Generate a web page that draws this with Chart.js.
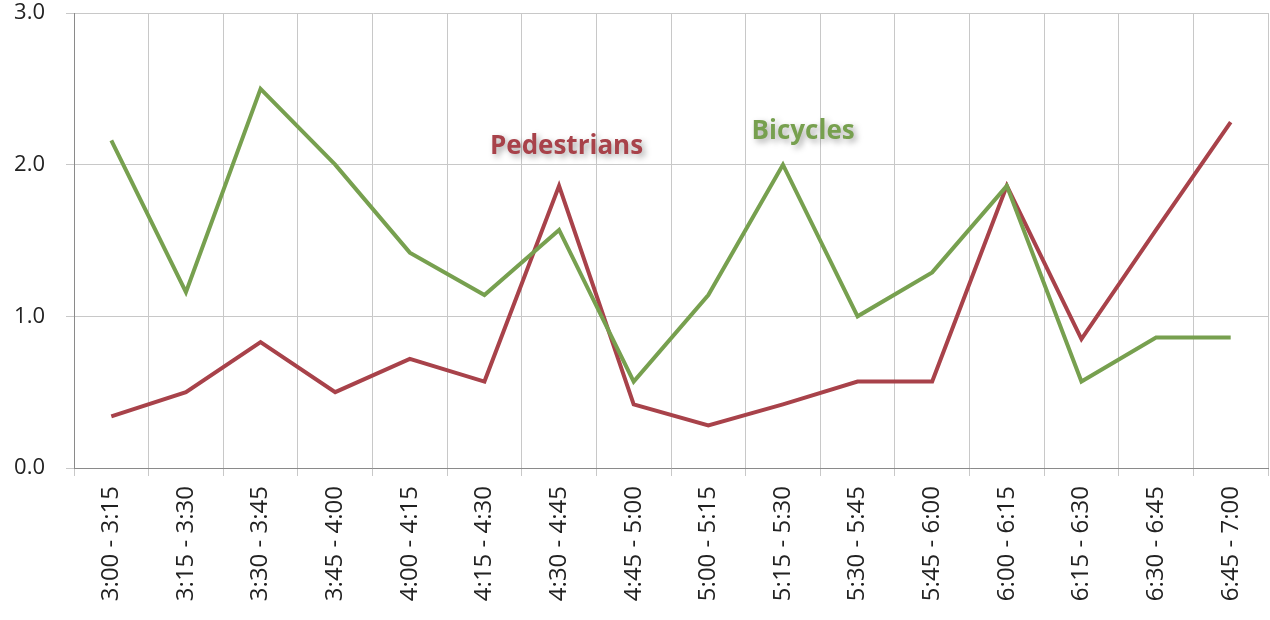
<!DOCTYPE html>
<html>
<head>
<meta charset="utf-8">
<script src="https://cdn.jsdelivr.net/npm/chart.js@4"></script>
<style>
  html, body { margin: 0; padding: 0; background: #fff; }
  #wrap { width: 1270px; height: 620px; position: relative; }
</style>
</head>
<body>
<div id="wrap"><canvas id="traffic-chart"></canvas></div>
<script>
const periods = ["3:00 - 3:15", "3:15 - 3:30", "3:30 - 3:45", "3:45 - 4:00", "4:00 - 4:15", "4:15 - 4:30",
  "4:30 - 4:45", "4:45 - 5:00", "5:00 - 5:15", "5:15 - 5:30", "5:30 - 5:45", "5:45 - 6:00",
  "6:00 - 6:15", "6:15 - 6:30", "6:30 - 6:45", "6:45 - 7:00"];
const bicycles = [2.16, 1.16, 2.5, 2.0, 1.42, 1.14, 1.57, 0.57, 1.14, 2.0, 1.0, 1.29, 1.86, 0.57, 0.86, 0.86];
const pedestrians = [0.34, 0.5, 0.83, 0.5, 0.72, 0.57, 1.86, 0.42, 0.28, 0.42, 0.57, 0.57, 1.86, 0.85, 1.57, 2.28];
const yTicks = [0, 1, 2, 3];

// series names written inside the plot, next to the lines
const seriesLabels = [
  { text: "Pedestrians", color: "#a8424a", index: 6.1, value: 2.12 },
  { text: "Bicycles", color: "#77a04f", index: 9.27, value: 2.22 }
];

const labelPlugin = {
  id: "seriesLabels",
  afterDatasetsDraw(chart) {
    const ctx = chart.ctx;
    const xs = chart.scales.x, ys = chart.scales.y;
    ctx.save();
    ctx.font = "bold 26px 'Open Sans', sans-serif";
    ctx.textAlign = "center";
    ctx.textBaseline = "middle";
    seriesLabels.forEach(l => {
      const i = Math.floor(l.index);
      const x0 = xs.getPixelForValue(i), x1 = xs.getPixelForValue(i + 1);
      const x = x0 + (x1 - x0) * (l.index - i);
      const y = ys.getPixelForValue(l.value);
      ctx.shadowColor = "rgba(0,0,0,0.35)";
      ctx.shadowBlur = 6;
      ctx.shadowOffsetX = 3;
      ctx.shadowOffsetY = 3;
      ctx.fillStyle = l.color;
      ctx.fillText(l.text, x, y);
    });
    ctx.restore();
  }
};

const ctx = document.getElementById("traffic-chart").getContext("2d");
const chart = new Chart(ctx, {
  type: "line",
  data: {
    labels: periods,
    datasets: [
      {
        label: "Bicycles",
        data: bicycles,
        borderColor: "#77a04f",
        borderWidth: 4,
        pointRadius: 0,
        tension: 0
      },
      {
        label: "Pedestrians",
        data: pedestrians,
        borderColor: "#a8424a",
        borderWidth: 4,
        pointRadius: 0,
        tension: 0
      }
    ]
  },
  options: {
    responsive: true,
    maintainAspectRatio: false,
    animation: false,
    layout: { padding: { top: 13, right: 2, bottom: 6, left: 0 } },
    plugins: {
      legend: { display: false },
      tooltip: { enabled: false }
    },
    scales: {
      x: {
        offset: true,
        grid: { offset: true, color: "#c8c8c8", lineWidth: 1, tickLength: 8, drawTicks: true },
        border: { color: "#8a8a8a", width: 1 },
        ticks: {
          minRotation: 90,
          maxRotation: 90,
          autoSkip: false,
          padding: 10,
          color: "#222",
          font: { family: "'Open Sans', sans-serif", size: 24 }
        },
        afterFit: s => { s.height = 146; }
      },
      y: {
        min: 0,
        max: 3,
        afterBuildTicks: s => { s.ticks = yTicks.map(v => ({ value: v })); },
        grid: { color: "#c8c8c8", lineWidth: 1, tickLength: 8 },
        border: { color: "#8a8a8a", width: 1 },
        ticks: {
          padding: 21,
          color: "#222",
          font: { family: "'Open Sans', sans-serif", size: 22, lineHeight: 1 },
          callback: v => v.toFixed(1)
        },
        afterFit: s => { s.width = 74; s.paddingTop = 0; s.paddingBottom = 0; }
      }
    }
  },
  plugins: [labelPlugin]
});
</script>
</body>
</html>
